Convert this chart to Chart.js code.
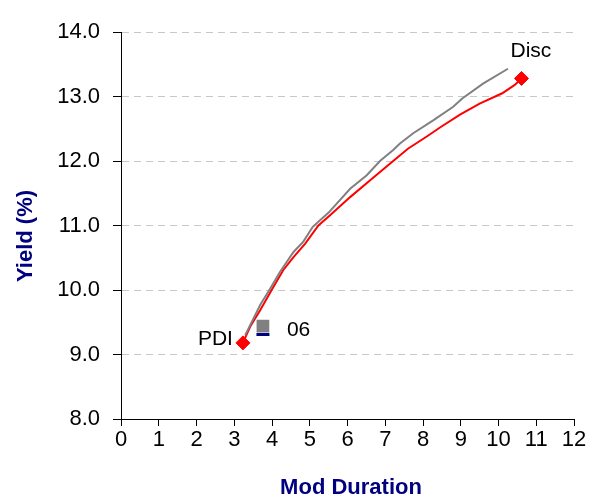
<!DOCTYPE html>
<html>
<head>
<meta charset="utf-8">
<script src="https://cdn.jsdelivr.net/npm/chart.js@4/dist/chart.umd.min.js"></script>
<style>
  html, body { margin: 0; padding: 0; background: #ffffff; }
  #chart { display: block; }
</style>
</head>
<body>
<canvas id="chart" width="608" height="500"></canvas>
<script>
(() => {
  // red curve (ends at PDI and Disc)
  const redX = [3.23, 3.42, 3.69, 3.99, 4.30, 4.57, 4.88, 5.23, 5.56, 6.07, 6.60, 7.21, 7.60, 8.10, 8.45, 8.98, 9.50, 10.10, 10.43, 10.61];
  const redY = [9.18, 9.43, 9.69, 10.00, 10.31, 10.51, 10.72, 11.00, 11.17, 11.44, 11.70, 12.00, 12.19, 12.38, 12.52, 12.72, 12.89, 13.05, 13.18, 13.28];

  // grey curve
  const greyX = [3.29, 3.69, 3.93, 4.21, 4.57, 4.83, 5.08, 5.50, 6.07, 6.51, 6.86, 7.21, 7.39, 7.74, 8.27, 8.80, 9.04, 9.59, 10.25];
  const greyY = [9.30, 9.77, 10.00, 10.28, 10.59, 10.75, 10.98, 11.20, 11.57, 11.78, 12.00, 12.17, 12.27, 12.43, 12.63, 12.84, 12.97, 13.20, 13.43];

  // "06" bond: grey square and navy dash
  const bondX = [3.76];
  const bondSquareY = [9.44];
  const bondDashY = [9.31];

  const pointLabels = ["PDI", "Disc", "06"];

  const xTicks = [0, 1, 2, 3, 4, 5, 6, 7, 8, 9, 10, 11, 12];
  const yTicks = [8, 9, 10, 11, 12, 13, 14];

  const xTitle = "Mod Duration";
  const yTitle = "Yield (%)";

  const zip = (xs, ys) => xs.map((x, i) => ({ x, y: ys[i] }));
  const FONT = "'Liberation Sans', Arial, sans-serif";

  const textPlugin = {
    id: "textPlugin",
    afterDraw: (chart) => {
      const { ctx, scales } = chart;
      const xs = scales.x;
      const ys = scales.y;
      ctx.save();

      ctx.fillStyle = "#000000";
      ctx.font = `21px ${FONT}`;
      ctx.textBaseline = "middle";

      const px0 = xs.getPixelForValue(redX[0]);
      const py0 = ys.getPixelForValue(redY[0]);
      ctx.textAlign = "right";
      ctx.fillText(pointLabels[0], px0 - 10, py0 - 4);

      const last = redX.length - 1;
      const px1 = xs.getPixelForValue(redX[last]);
      const py1 = ys.getPixelForValue(redY[last]);
      ctx.textAlign = "left";
      ctx.fillText(pointLabels[1], px1 - 11, py1 - 27);

      const px2 = xs.getPixelForValue(bondX[0]);
      const py2 = ys.getPixelForValue(bondSquareY[0]);
      ctx.fillText(pointLabels[2], px2 + 24, py2 + 4);

      ctx.fillStyle = "#000080";
      ctx.font = `bold 22px ${FONT}`;
      ctx.textAlign = "center";
      ctx.fillText(xTitle, 351, 488);

      ctx.translate(26, 236);
      ctx.rotate(-Math.PI / 2);
      ctx.fillText(yTitle, 0, 0);
      ctx.restore();
    },
  };

  const canvas = document.querySelector("#chart");

  new Chart(canvas, {
    type: "scatter",
    data: {
      datasets: [
        {
          label: "Grey curve",
          data: zip(greyX, greyY),
          showLine: true,
          borderColor: "#808080",
          borderWidth: 2,
          pointRadius: 0,
          tension: 0,
        },
        {
          label: "Red curve",
          data: zip(redX, redY),
          showLine: true,
          borderColor: "#ff0000",
          backgroundColor: "#ff0000",
          borderWidth: 2,
          pointStyle: "rectRot",
          pointRadius: (ctx) => (ctx.dataIndex === 0 || ctx.dataIndex === redX.length - 1 ? 7 : 0),
          pointBorderWidth: 1,
          tension: 0,
        },
        {
          label: "06 square",
          data: zip(bondX, bondSquareY),
          pointStyle: "rect",
          pointRadius: 9,
          backgroundColor: "#808080",
          borderColor: "#808080",
          pointBorderWidth: 0,
        },
        {
          label: "06 dash",
          data: zip(bondX, bondDashY),
          pointStyle: "line",
          pointRadius: 6.5,
          borderColor: "#000080",
          pointBorderWidth: 3,
        },
      ],
    },
    options: {
      responsive: false,
      animation: false,
      layout: {
        padding: { top: 32, right: 34, bottom: 0, left: 0 },
      },
      scales: {
        x: {
          type: "linear",
          min: xTicks[0],
          max: xTicks[xTicks.length - 1],
          afterBuildTicks: (scale) => {
            scale.ticks = xTicks.map((v) => ({ value: v }));
          },
          afterFit: (scale) => {
            scale.height = 81;
          },
          grid: {
            drawOnChartArea: false,
            drawTicks: true,
            tickLength: 7,
            tickColor: "#000000",
          },
          border: { color: "#000000", width: 1 },
          ticks: {
            color: "#000000",
            padding: 1,
            font: { family: FONT, size: 22 },
            maxRotation: 0,
            autoSkip: false,
          },
        },
        y: {
          type: "linear",
          min: yTicks[0],
          max: yTicks[yTicks.length - 1],
          afterBuildTicks: (scale) => {
            scale.ticks = yTicks.map((v) => ({ value: v }));
          },
          afterFit: (scale) => {
            scale.width = 121;
          },
          grid: {
            color: "#c8c8c8",
            drawTicks: true,
            tickLength: 8,
            tickColor: "#000000",
            tickBorderDash: [],
          },
          border: { color: "#000000", width: 1, dash: [7, 5] },
          ticks: {
            color: "#000000",
            padding: 13,
            font: { family: FONT, size: 22 },
            callback: (v) => Number(v).toFixed(1),
          },
        },
      },
      plugins: {
        legend: { display: false },
        tooltip: { enabled: false },
      },
    },
    plugins: [textPlugin],
  });
})();
</script>
</body>
</html>
